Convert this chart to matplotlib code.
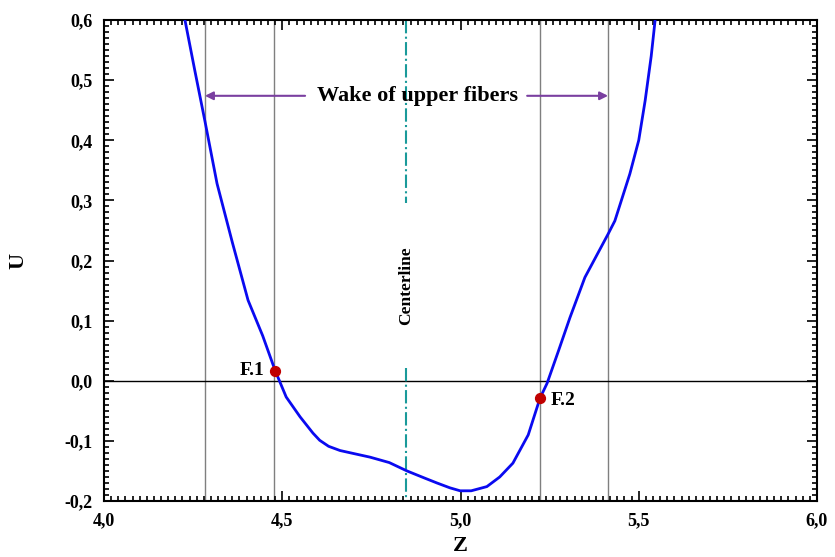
import numpy as np
import matplotlib.pyplot as plt
from matplotlib.ticker import MultipleLocator

# velocity profile
z = [4.227, 4.255, 4.283, 4.317, 4.360, 4.404, 4.445, 4.480, 4.511, 4.550,
     4.586, 4.605, 4.630, 4.662, 4.700, 4.746, 4.800, 4.850, 4.900, 4.934,
     4.970, 4.999, 5.030, 5.074, 5.110, 5.147, 5.190, 5.223, 5.243, 5.275,
     5.307, 5.349, 5.414, 5.433, 5.475, 5.500, 5.518, 5.535, 5.546]
u = [0.600, 0.515, 0.432, 0.328, 0.230, 0.134, 0.075, 0.017, -0.027, -0.060,
     -0.087, -0.099, -0.109, -0.116, -0.121, -0.127, -0.136, -0.150, -0.162, -0.170,
     -0.178, -0.183, -0.183, -0.176, -0.160, -0.137, -0.090, -0.029, -0.004, 0.050,
     0.105, 0.172, 0.244, 0.266, 0.344, 0.400, 0.466, 0.540, 0.600]

# fiber points
f_z = [4.480, 5.223]
f_u = [0.017, -0.029]
f_names = ["F.1", "F.2"]

wake_lines = [4.283, 4.477, 5.223, 5.414]
centerline = 4.847

x_ticks = [4.0, 4.5, 5.0, 5.5, 6.0]
x_labels = ["4,0", "4,5", "5,0", "5,5", "6,0"]
y_ticks = [-0.2, -0.1, 0.0, 0.1, 0.2, 0.3, 0.4, 0.5, 0.6]
y_labels = ["-0,2", "-0,1", "0,0", "0,1", "0,2", "0,3", "0,4", "0,5", "0,6"]

plt.rcParams['font.family'] = ['Liberation Serif', 'DejaVu Serif']
plt.rcParams['font.weight'] = 'bold'

fig = plt.figure(figsize=(8.35, 5.57), dpi=100)
ax = fig.add_axes([0.1246, 0.1005, 0.8538, 0.8635])

for xv in wake_lines:
    ax.axvline(xv, color='#7f7f7f', lw=1.0, zorder=1)
ax.axhline(0.0, color='black', lw=1.0, zorder=1)

# centerline with a gap for the label
ax.plot([centerline, centerline], [0.6, 0.296], color='#1a9a9a', lw=1.5,
        ls='-.', zorder=1)
ax.plot([centerline, centerline], [0.022, -0.2], color='#1a9a9a', lw=1.5,
        ls='-.', zorder=1)
ax.text(centerline, 0.158, "Centerline", rotation=90, ha='center', va='center',
        fontsize=12.5, fontweight='bold')

ax.plot(z, u, color='#0a0af0', lw=2.0, zorder=3)
ax.scatter(f_z, f_u, color='#c00000', s=50, zorder=4)
ax.text(f_z[0] - 0.03, f_u[0], f_names[0], ha='right', va='center',
        fontsize=14, fontweight='bold')
ax.text(f_z[1] + 0.03, f_u[1] - 0.004, f_names[1], ha='left', va='center',
        fontsize=14, fontweight='bold')

# wake annotation
arrow_col = '#7a3fa0'
ax.annotate("", xy=(4.283, 0.474), xytext=(4.564, 0.474),
            arrowprops=dict(arrowstyle='-|>', color=arrow_col, lw=1.5,
                            shrinkA=0, shrinkB=0, mutation_scale=12))
ax.annotate("", xy=(5.414, 0.474), xytext=(5.187, 0.474),
            arrowprops=dict(arrowstyle='-|>', color=arrow_col, lw=1.5,
                            shrinkA=0, shrinkB=0, mutation_scale=12))
ax.text(4.878, 0.474, "Wake of upper fibers", ha='center', va='center',
        fontsize=16, fontweight='bold')

ax.set_xlim(4.0, 6.0)
ax.set_ylim(-0.2, 0.6)
ax.set_xticks(x_ticks)
ax.set_xticklabels(x_labels)
ax.set_yticks(y_ticks)
ax.set_yticklabels(y_labels)
ax.xaxis.set_minor_locator(MultipleLocator(0.02))
ax.yaxis.set_minor_locator(MultipleLocator(0.01))
ax.tick_params(which='both', direction='in', top=True, right=True,
               labelsize=13, width=1.2)
ax.tick_params(which='major', length=7, pad=8)
ax.tick_params(which='minor', length=3.5)
for sp in ax.spines.values():
    sp.set_linewidth(1.5)

ax.set_xlabel("Z", fontsize=16, fontweight='bold')
ax.set_ylabel("U", fontsize=16, fontweight='bold')
ax.xaxis.set_label_coords(0.5, -0.072)
ax.yaxis.set_label_coords(-0.106, 0.5)

fig.savefig("out.png", dpi=100)
